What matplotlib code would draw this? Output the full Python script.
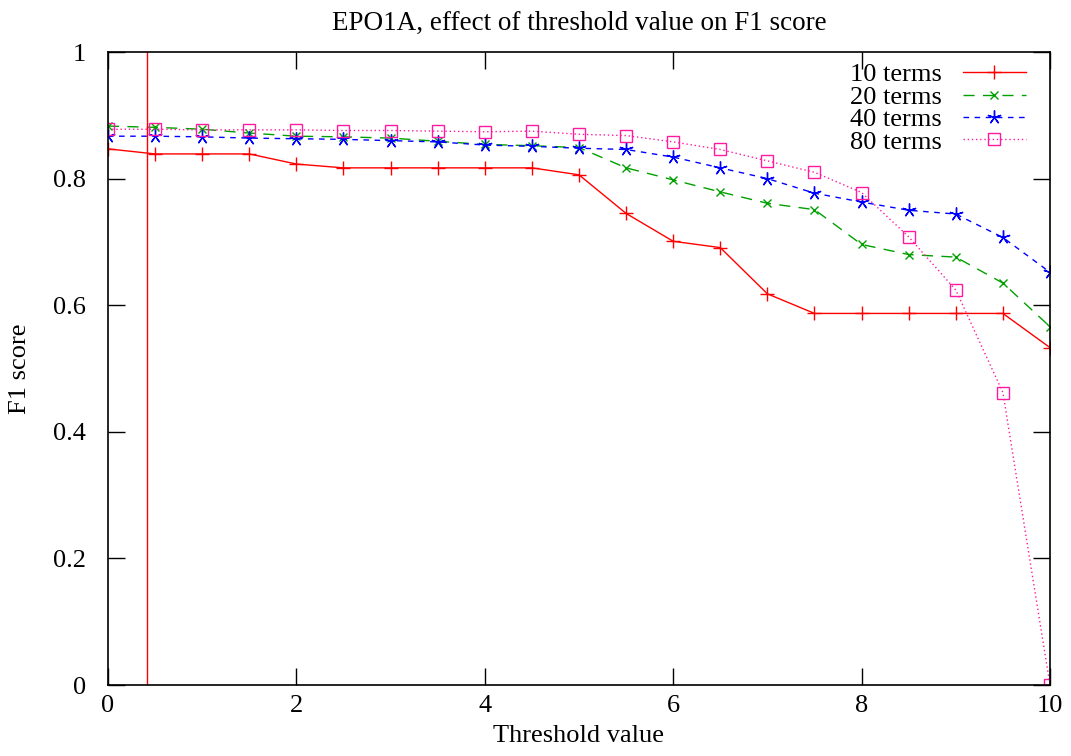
import matplotlib
matplotlib.use("Agg")
import matplotlib.pyplot as plt

thresholds = [0, 0.5, 1, 1.5, 2, 2.5, 3, 3.5, 4, 4.5, 5, 5.5, 6, 6.5, 7, 7.5, 8, 8.5, 9, 9.5, 10]
f1_10 = [0.847, 0.839, 0.839, 0.839, 0.823, 0.817, 0.817, 0.817, 0.817, 0.817, 0.806, 0.745, 0.701, 0.691, 0.618, 0.587, 0.587, 0.587, 0.587, 0.587, 0.533]
f1_20 = [0.883, 0.881, 0.878, 0.872, 0.867, 0.866, 0.864, 0.859, 0.854, 0.852, 0.849, 0.817, 0.798, 0.779, 0.761, 0.751, 0.696, 0.680, 0.676, 0.635, 0.566]
f1_40 = [0.867, 0.867, 0.866, 0.864, 0.863, 0.862, 0.860, 0.858, 0.853, 0.851, 0.848, 0.846, 0.834, 0.817, 0.800, 0.777, 0.763, 0.750, 0.744, 0.707, 0.652]
f1_80 = [0.878, 0.878, 0.877, 0.877, 0.877, 0.876, 0.876, 0.875, 0.874, 0.875, 0.870, 0.868, 0.858, 0.846, 0.828, 0.810, 0.778, 0.708, 0.624, 0.462, 0.0]
series_labels = ["10 terms", "20 terms", "40 terms", "80 terms"]
vline_x = 0.414

plt.rcParams['font.family'] = ['Liberation Serif', 'DejaVu Serif']

fig = plt.figure(figsize=(10.71, 7.56), dpi=100)
ax = fig.add_axes([0.1008, 0.0939, 0.8796, 0.8373])

ax.plot(thresholds, f1_10, color='#ff0000', lw=1.0, ls='-', marker='+', ms=10, mew=1.0, label=series_labels[0])
ax.plot(thresholds, f1_20, color='#00a000', lw=1.0, ls=(0, (8, 6)), marker='x', ms=6, mew=1.0, label=series_labels[1])
ax.plot(thresholds, f1_40, color='#0000ff', lw=1.0, ls=(0, (4, 4)), marker=(5, 2, 0), ms=10, mew=1.0, label=series_labels[2])
ax.plot(thresholds, f1_80, color='#ff1aa0', lw=1.0, ls=(0, (1, 2)), marker='s', ms=8, mew=1.0, mfc='none', label=series_labels[3])
ax.axvline(vline_x, color='#ff0000', lw=1.0)

ax.set_xlim(0, 10)
ax.set_ylim(0, 1)
ax.set_xticks([0, 2, 4, 6, 8, 10])
ax.set_yticks([0, 0.2, 0.4, 0.6, 0.8, 1.0])
ax.set_yticklabels(["0", "0.2", "0.4", "0.6", "0.8", "1"])
ax.tick_params(direction='in', length=12, width=1.0, top=True, right=True, labelsize=19)
ax.tick_params(axis='y', pad=16)
ax.tick_params(axis='x', pad=7)
for s in ax.spines.values():
    s.set_linewidth(1.2)

ax.set_title("EPO1A, effect of threshold value on F1 score", fontsize=19.5, pad=16)
ax.set_xlabel("Threshold value", fontsize=19, labelpad=6)
ax.set_ylabel("F1 score", fontsize=19, labelpad=16)

leg = ax.legend(loc='upper right', bbox_to_anchor=(0.997, 1.016), frameon=False,
                markerfirst=False, fontsize=19,
                handlelength=2.4, handletextpad=0.8, labelspacing=-0.04,
                borderaxespad=0.5, borderpad=0.3)

fig.savefig("out.png", dpi=100)
